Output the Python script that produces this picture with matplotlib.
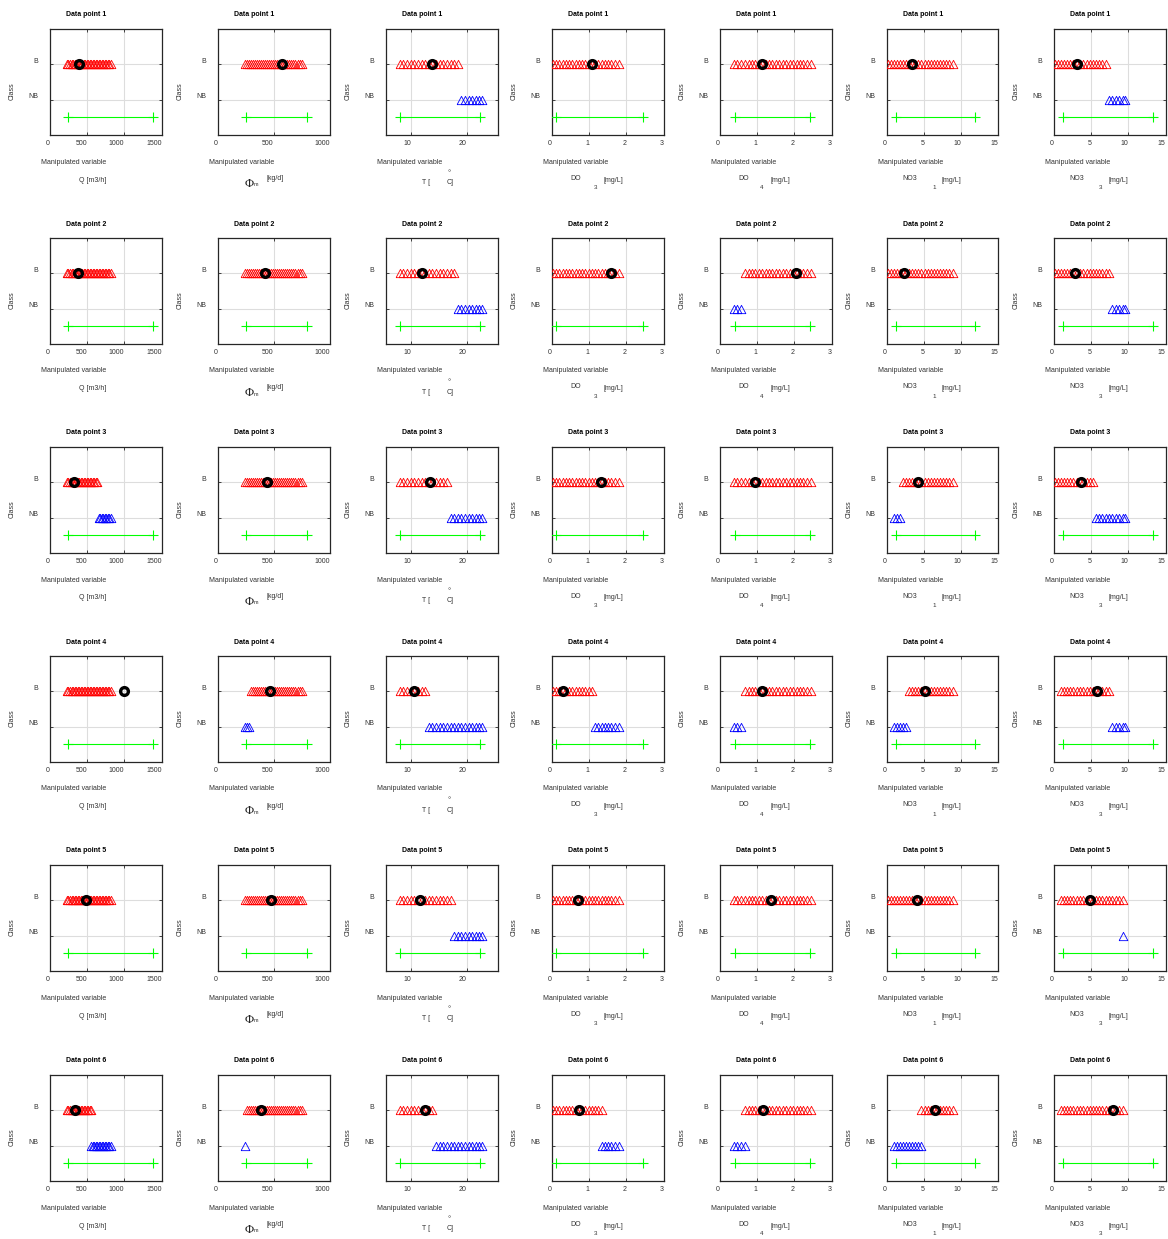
import numpy as np
import matplotlib.pyplot as plt

plt.rcParams['font.family'] = ['Liberation Sans', 'DejaVu Sans']

W, H = 1168, 1239

# sample positions (explanation samples) per manipulated variable
q_samples = [228, 248, 268, 290, 309, 330, 350, 371, 390, 411, 431, 452, 472, 493, 513,
             533, 549, 574, 594, 615, 635, 656, 676, 697, 717, 737, 758, 778, 798, 817]
phi_samples = [241, 259, 277, 295, 313, 331, 350, 368, 386, 404, 422, 440, 459, 477, 495,
               513, 531, 550, 568, 586, 604, 622, 641, 659, 677, 695, 714, 732, 750]
t_samples = [8.0, 8.6, 9.3, 9.9, 10.6, 11.2, 11.9, 12.5, 13.2, 13.8, 14.5, 15.1, 15.8,
             16.4, 17.1, 17.7, 18.4, 19.0, 19.7, 20.3, 21.0, 21.6, 22.2, 22.8]
do3_samples = [0.03, 0.12, 0.2, 0.29, 0.38, 0.47, 0.55, 0.64, 0.73, 0.82, 0.9, 0.99,
               1.08, 1.16, 1.25, 1.34, 1.43, 1.51, 1.6, 1.69, 1.8]
do4_samples = [0.38, 0.47, 0.57, 0.68, 0.77, 0.86, 0.95, 1.04, 1.14, 1.23, 1.32, 1.41,
               1.5, 1.6, 1.69, 1.78, 1.87, 1.96, 2.06, 2.15, 2.24, 2.33, 2.46]
no31_samples = [0.14, 0.55, 0.95, 1.35, 1.75, 2.2, 2.6, 3.0, 3.4, 3.8, 4.2, 4.6, 5.1,
                5.5, 5.9, 6.3, 6.7, 7.1, 7.6, 8.0, 8.4, 8.9]
no33_samples = [0.14, 0.55, 0.95, 1.4, 1.8, 2.2, 2.6, 3.1, 3.5, 3.9, 4.4, 4.8, 5.3,
                5.7, 6.1, 6.5, 7.0, 7.4, 7.8, 8.3, 8.7, 9.3, 9.6]
samples = [q_samples, phi_samples, t_samples, do3_samples, do4_samples, no31_samples, no33_samples]

x_limits = [(0, 1500), (0, 1000), (5.5, 25.5), (0, 3), (0, 3), (0, 15), (0, 15)]
x_ticks = [[0, 500, 1000, 1500], [0, 500, 1000], [10, 20], [0, 1, 2, 3], [0, 1, 2, 3],
           [0, 5, 10, 15], [0, 5, 10, 15]]
range_lo = [245, 250, 8.0, 0.1, 0.41, 1.22, 1.18]
range_hi = [1385, 795, 22.3, 2.45, 2.43, 11.8, 13.3]

# per data point: interval of samples classified B / NB, and value of the data point
b_ranges = [
    [(228, 817), (241, 750), (8.0, 18.8), (0.03, 1.8), (0.38, 2.46), (0.14, 8.9), (0.14, 7.0)],
    [(228, 817), (241, 750), (8.0, 17.9), (0.03, 1.8), (0.6, 2.46), (0.14, 8.9), (0.14, 7.4)],
    [(228, 640), (241, 750), (8.0, 16.5), (0.03, 1.8), (0.38, 2.46), (2.0, 8.9), (0.14, 5.3)],
    [(228, 817), (295, 750), (8.0, 12.9), (0.03, 1.08), (0.6, 2.46), (3.0, 8.9), (0.95, 7.4)],
    [(228, 817), (241, 750), (8.0, 17.4), (0.03, 1.8), (0.38, 2.46), (0.14, 8.9), (0.95, 9.3)],
    [(228, 549), (259, 750), (8.0, 14.3), (0.03, 1.34), (0.68, 2.46), (4.6, 8.9), (0.95, 9.3)],
]
nb_ranges = [
    [None, None, (19.0, 22.8), None, None, None, (7.4, 9.6)],
    [None, None, (18.4, 22.8), None, (0.38, 0.57), None, (7.8, 9.6)],
    [(656, 817), None, (17.1, 22.8), None, None, (0.95, 1.75), (5.7, 9.6)],
    [None, (223, 277), (13.2, 22.8), (1.16, 1.8), (0.38, 0.57), (0.95, 2.6), (7.8, 9.6)],
    [None, None, (17.7, 22.8), None, None, None, (9.3, 9.3)],
    [(549, 817), (241, 241), (14.5, 22.8), (1.34, 1.8), (0.38, 0.68), (0.95, 4.6), None],
]
point_x = [
    [390, 577, 13.7, 1.08, 1.13, 3.42, 3.15],
    [375, 425, 12.0, 1.58, 2.05, 2.3, 2.8],
    [321, 436, 13.4, 1.31, 0.95, 4.2, 3.65],
    [995, 468, 10.5, 0.29, 1.14, 5.1, 5.8],
    [482, 478, 11.6, 0.7, 1.37, 4.05, 4.9],
    [335, 388, 12.5, 0.72, 1.16, 6.5, 8.0],
]

col_left = [50, 218, 386, 552, 720, 887, 1054]
row_top = [29, 238, 447, 656, 865, 1075]
AW, AH = 111.5, 106
GRAY = '#333333'
TRI = [(-1, -0.95), (1, -0.95), (0, 0.95), (-1, -0.95)]

fig = plt.figure(figsize=(W / 100, H / 100), dpi=100)


def ftext(x, y, s, **kw):
    kw.setdefault('fontsize', 5)
    kw.setdefault('color', GRAY)
    kw.setdefault('va', 'center')
    fig.text(x / W, 1 - y / H, s, **kw)


def pick(vals, rng):
    v = np.array(vals)
    if rng is None:
        return v[:0]
    return v[(v >= rng[0] - 1e-9) & (v <= rng[1] + 1e-9)]


for r in range(6):
    for c in range(7):
        left, top = col_left[c], row_top[r]
        bottom = top + AH
        ax = fig.add_axes([left / W, 1 - bottom / H, AW / W, AH / H])
        ax.set_xlim(*x_limits[c])
        ax.set_ylim(0, 3)
        ax.set_xticks(x_ticks[c])
        ax.set_yticks([1, 2])
        ax.set_xticklabels([])
        ax.set_yticklabels([])
        ax.tick_params(direction='in', top=True, right=True, length=2.5, width=0.6,
                       color='#262626')
        ax.grid(True, color='#dddddd', lw=0.8)
        ax.set_axisbelow(True)
        for sp in ax.spines.values():
            sp.set_color('#262626')
            sp.set_linewidth(0.9)

        # valid range of the manipulated variable
        ax.plot([range_lo[c], range_hi[c]], [0.5, 0.5], color='#00ff00', lw=0.8,
                marker='+', ms=7.5, mew=0.8, zorder=3)
        red = pick(samples[c], b_ranges[r][c])
        blue = pick(samples[c], nb_ranges[r][c])
        ax.plot(red, np.full(len(red), 2.0), ls='none', marker=TRI, mfc='none',
                mec='red', ms=6.3, mew=0.6, zorder=4)
        ax.plot(blue, np.full(len(blue), 1.0), ls='none', marker=TRI, mfc='none',
                mec='blue', ms=6.3, mew=0.6, zorder=4)
        ax.plot([point_x[r][c]], [2.0], ls='none', marker='o', mfc='none', mec='black',
                ms=5.6, mew=2.4, zorder=5)

        # tick labels (right aligned at the tick, as in the original)
        for t in x_ticks[c]:
            ax.text(t, -5 / AH, str(t), transform=ax.get_xaxis_transform(), ha='right',
                    va='top', fontsize=5, color=GRAY)
        for yv, lab in [(2, 'B'), (1, 'NB')]:
            ax.text(-12 / AW, yv + 0.045, lab, transform=ax.get_yaxis_transform(),
                    ha='right', va='baseline', fontsize=5, color=GRAY)

        ftext(left + 56, top - 14, 'Data point %d' % (r + 1), ha='right',
              fontweight='bold', color='black')
        ftext(left - 38, top + 53, 'Class', rotation=90, ha='center', va='top')
        ftext(left + 56, bottom + 27, 'Manipulated variable', ha='right')

        y2 = bottom + 45
        if c == 0:
            ftext(left + 56, y2, 'Q [m3/h]', ha='right')
        elif c == 1:
            ftext(left + 31, y2 + 4, 'Φ', ha='center', fontsize=9,
                  family=['Liberation Serif', 'DejaVu Serif'], color='#222222')
            ftext(left + 38, y2 + 5, 'm', ha='center', fontsize=4)
            ftext(left + 57, y2 - 1, '[kg/d]', ha='center')
        elif c == 2:
            ftext(left + 40, y2 + 3, 'T [', ha='center')
            ftext(left + 63, y2 - 3, '°', ha='center', va='bottom', fontsize=5.5)
            ftext(left + 64, y2 + 3, 'C]', ha='center')
        else:
            name = ['DO', 'DO', 'NO3', 'NO3'][c - 3]
            sub = ['3', '4', '1', '3'][c - 3]
            dx = [(24, 44, 61), (24, 42, 60), (23, 47, 64), (23, 47, 64)][c - 3]
            ftext(left + dx[0], y2 - 2, name, ha='center')
            ftext(left + dx[1], y2 + 7.5, sub, ha='center', fontsize=4.5)
            ftext(left + dx[2], y2, '[mg/L]', ha='center')

plt.savefig('out.png', dpi=100)
